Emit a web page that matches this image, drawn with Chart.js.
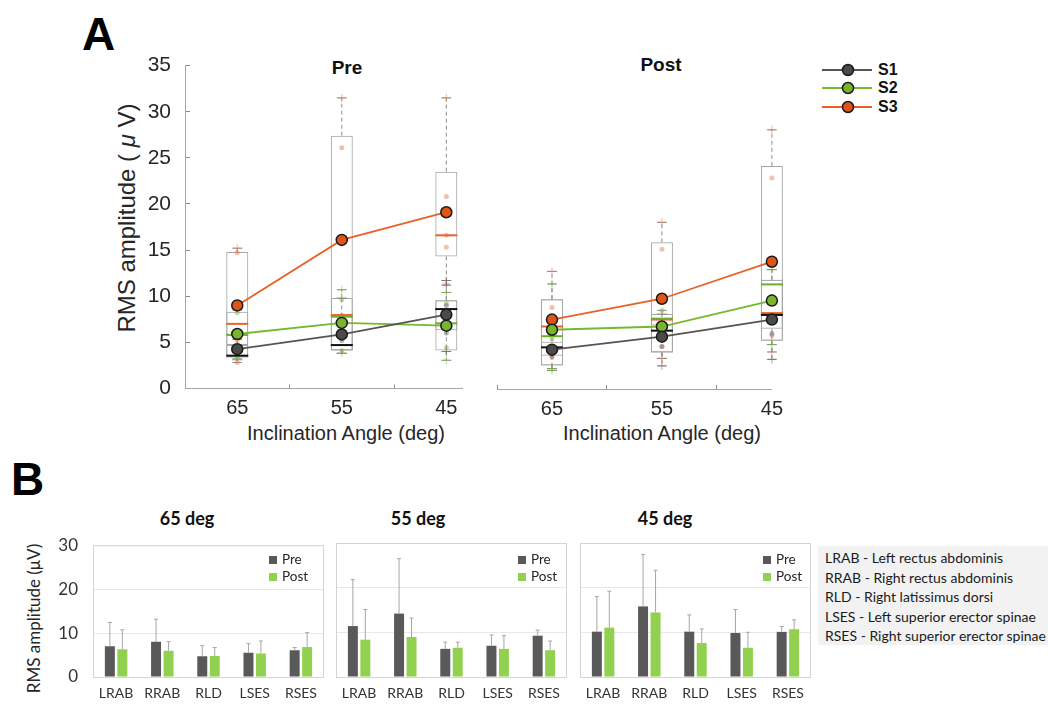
<!DOCTYPE html>
<html lang="en">
<head>
<meta charset="UTF-8">
<title>RMS amplitude by inclination angle</title>
<script src="https://cdn.jsdelivr.net/npm/chart.js"></script>
<style>
  body { margin: 0; width: 1048px; height: 708px; position: relative; overflow: hidden; background: #fff;
         font-family: "Liberation Sans", Arial, sans-serif; color: #262626; }
  .abs { position: absolute; line-height: 1; white-space: nowrap; }
  .c { text-align: center; }
  .b { font-weight: bold; }
  .cal { font-family: Lato, "Open Sans", sans-serif; }
  canvas { position: absolute; }
  .sq { display: inline-block; width: 8px; height: 8px; margin-right: 5px; vertical-align: 0px; }
  #muscleKey { position: absolute; left: 818px; top: 546px; width: 230px; height: 99px; background: #f2f2f2;
               font-family: Lato, sans-serif; font-size: 14px; line-height: 19.6px; color: #1a1a1a; padding: 2px 0 0 7px; box-sizing: border-box; }
  #subjKey .row { position: absolute; left: 0; height: 18px; }
  #subjKey span { position: absolute; left: 58px; top: 0; font-weight: bold; font-size: 16px; line-height: 18px; color: #111; }
</style>
</head>
<body>

<!-- panel A texts -->
<div class="abs b" style="left:82px; top:11px; font-size:46px; color:#000;">A</div>
<div class="abs b c" style="left:297px; top:58px; width:100px; font-size:19px; color:#111;">Pre</div>
<div class="abs b c" style="left:611px; top:55px; width:100px; font-size:19px; color:#111;">Post</div>
<div class="abs c" style="left:221px; top:423px; width:250px; font-size:20px;">Inclination Angle (deg)</div>
<div class="abs c" style="left:537px; top:423px; width:250px; font-size:20px;">Inclination Angle (deg)</div>
<div class="abs c" style="left:-3px; top:206px; width:260px; font-size:24px; transform:rotate(-90deg);">RMS amplitude ( <i>&mu;</i> V)</div>
<div id="subjKey" class="abs" style="left:820px; top:61px; width:120px; height:60px;"></div>

<canvas id="preChart" width="375" height="386" style="left:100px; top:34px;"></canvas>
<canvas id="postChart" width="311" height="370" style="left:484px; top:50px;"></canvas>

<!-- panel B texts -->
<div class="abs b" style="left:11px; top:456px; font-size:46px; color:#000;">B</div>
<div class="abs b c cal" style="left:137px; top:509px; width:100px; font-size:18px; color:#111;">65 deg</div>
<div class="abs b c cal" style="left:368px; top:509px; width:100px; font-size:18px; color:#111;">55 deg</div>
<div class="abs b c cal" style="left:615px; top:509px; width:100px; font-size:18px; color:#111;">45 deg</div>
<div class="abs c cal" style="left:-62px; top:610px; width:190px; font-size:17px; transform:rotate(-90deg);">RMS amplitude (&mu;V)</div>

<canvas id="bar65" width="290" height="187" style="left:40px; top:520px;"></canvas>
<canvas id="bar55" width="243" height="177" style="left:330px; top:530px;"></canvas>
<canvas id="bar45" width="243" height="177" style="left:574px; top:530px;"></canvas>

<div class="abs cal" style="left:269px; top:551px; font-size:13.5px; line-height:17px;">
  <div><span class="sq" style="background:#595959"></span>Pre</div><div><span class="sq" style="background:#92d050"></span>Post</div></div>
<div class="abs cal" style="left:518px; top:551px; font-size:13.5px; line-height:17px;">
  <div><span class="sq" style="background:#595959"></span>Pre</div><div><span class="sq" style="background:#92d050"></span>Post</div></div>
<div class="abs cal" style="left:763px; top:551px; font-size:13.5px; line-height:17px;">
  <div><span class="sq" style="background:#595959"></span>Pre</div><div><span class="sq" style="background:#92d050"></span>Post</div></div>

<div id="muscleKey">
  LRAB - Left rectus abdominis<br>
  RRAB - Right rectus abdominis<br>
  RLD - Right latissimus dorsi<br>
  LSES - Left superior erector spinae<br>
  RSES - Right superior erector spinae
</div>

<script>
// ---- panel A data: rows are S1, S2, S3; columns are 65, 55, 45 deg ----
const angleTicks = ['65', '55', '45'];
const subjects = ['S1', 'S2', 'S3'];
const lineColors = ['#555555', '#77b82e', '#e8602a'];
const markerFill = ['#4a4a4a', '#78b52d', '#dd5518'];
const medianColors = ['#111111', '#6fae28', '#e8642a'];
const dotColors = ['rgba(90,90,90,0.45)', 'rgba(119,184,46,0.45)', 'rgba(235,110,70,0.45)'];

const preMean = [[4.25, 5.85, 8.0], [5.9, 7.1, 6.8], [9.0, 16.1, 19.1]];
const postMean = [[4.25, 5.65, 7.5], [6.4, 6.75, 9.55], [7.5, 9.75, 13.75]];

const preQ1 = [[3.35, 4.1, 4.1], [4.7, 4.1, 6.3], [3.35, 4.1, 14.3]];
const preMed = [[3.55, 4.7, 8.6], [5.8, 7.8, 7.05], [7.0, 7.95, 16.6]];
const preQ3 = [[4.7, 7.8, 9.55], [8.3, 9.8, 9.55], [14.8, 27.4, 23.5]];
const preLo = [[3.1, 3.8, 4.0], [3.2, 3.8, 3.05], [2.8, 3.8, 11.2]];
const preHi = [[5.3, 9.8, 11.7], [8.5, 10.7, 10.4], [15.2, 31.5, 31.5]];

const postQ1 = [[2.55, 3.95, 5.2], [3.6, 3.95, 6.5], [2.55, 3.95, 5.2]];
const postMed = [[4.5, 6.3, 8.0], [5.7, 7.6, 11.3], [6.75, 7.5, 8.2]];
const postQ3 = [[5.1, 7.0, 11.8], [9.7, 8.1, 11.8], [9.7, 15.85, 24.1]];
const postLo = [[2.0, 2.5, 3.2], [2.2, 3.3, 4.8], [2.2, 3.3, 4.0]];
const postHi = [[5.7, 8.1, 12.9], [11.35, 8.5, 12.9], [12.7, 18.0, 28.0]];

// individual points [angle index, value]
const preDots = [
  [[0, 4.0], [1, 5.2], [2, 9.0], [2, 6.0]],
  [[0, 8.2], [0, 3.4], [1, 9.6], [1, 4.1], [2, 9.2], [2, 4.4]],
  [[0, 14.7], [0, 5.2], [0, 2.8], [1, 26.1], [1, 7.9], [2, 20.8], [2, 16.6], [2, 15.3]]
];
const preOut = [
  [[2, 11.7], [2, 11.2], [2, 4.0]],
  [[0, 3.2], [1, 10.7], [1, 3.8], [2, 10.4], [2, 3.05]],
  [[0, 15.2], [1, 31.5], [2, 31.5], [2, 11.4]]
];
const postDots = [
  [[0, 3.6], [1, 4.6], [2, 6.0]],
  [[0, 5.4], [1, 8.5], [2, 10.0]],
  [[0, 8.8], [0, 6.3], [0, 3.4], [1, 15.1], [1, 4.6], [2, 22.8], [2, 5.8]]
];
const postOut = [
  [[1, 2.5], [2, 3.2]],
  [[0, 11.35], [0, 2.2], [0, 2.0], [2, 12.9], [2, 4.8]],
  [[0, 12.7], [1, 18.0], [1, 3.3], [2, 28.0], [2, 4.0]]
];

// ---- panel B data ----
const muscles = ['LRAB', 'RRAB', 'RLD', 'LSES', 'RSES'];
const bar65Pre = [7.0, 8.05, 4.75, 5.5, 6.1];
const bar65PreErr = [12.4, 13.15, 7.15, 7.6, 6.7];   // top of error bar
const bar65Post = [6.3, 6.0, 4.8, 5.35, 6.85];
const bar65PostErr = [10.75, 8.05, 6.7, 8.2, 10.1];
const bar55Pre = [11.4, 14.2, 6.3, 7.0, 9.25];
const bar55PreErr = [21.8, 26.5, 7.8, 9.4, 10.5];
const bar55Post = [8.35, 8.95, 6.55, 6.3, 6.0];
const bar55PostErr = [15.1, 13.2, 7.8, 9.25, 8.05];
const bar45Pre = [10.15, 15.8, 10.15, 9.85, 10.1];
const bar45PreErr = [18.0, 27.4, 13.9, 15.1, 11.3];
const bar45Post = [11.05, 14.45, 7.6, 6.55, 10.7];
const bar45PostErr = [19.2, 23.9, 10.75, 10.0, 12.8];

// subject legend
const key = document.getElementById('subjKey');
subjects.forEach((s, k) => {
  const row = document.createElement('div');
  row.className = 'row';
  row.style.top = (k * 18.3) + 'px';
  row.innerHTML = '<svg width="56" height="18"><line x1="2" y1="9" x2="52" y2="9" stroke="' + lineColors[k] +
    '" stroke-width="2"/><circle cx="28" cy="9" r="5.5" fill="' + markerFill[k] +
    '" stroke="#1a1a1a" stroke-width="1.5"/></svg><span>' + s + '</span>';
  key.appendChild(row);
});

const pts = arr => arr.map((v, i) => ({x: i, y: v}));
const pairPts = arr => arr.map(p => ({x: p[0], y: p[1]}));

function whiskerPts(q1, q3, lo, hi) {
  const out = [];
  q1.forEach((_, i) => {
    out.push({x: i, y: q3[i]}, {x: i, y: hi[i]}, {x: i, y: null});
    out.push({x: i, y: q1[i]}, {x: i, y: lo[i]}, {x: i, y: null});
  });
  return out;
}

function boxDatasets(q1, med, q3, lo, hi, mean, dots, outs) {
  const ds = [];
  subjects.forEach((s, k) => {
    ds.push({type: 'line', label: s, data: pts(mean[k]), borderColor: lineColors[k], borderWidth: 1.8,
      pointRadius: 5.5, pointBackgroundColor: markerFill[k], pointBorderColor: '#1a1a1a', pointBorderWidth: 1.5,
      order: 0, clip: false});
    ds.push({type: 'scatter', data: pts(med[k]), pointStyle: 'line', pointRadius: 11,
      borderColor: medianColors[k], pointBorderColor: medianColors[k], pointBorderWidth: 2, borderWidth: 2, order: 1, clip: false});
    ds.push({type: 'scatter', data: pairPts(dots[k]), pointRadius: 2.5, backgroundColor: dotColors[k],
      pointBackgroundColor: dotColors[k], pointBorderWidth: 0, borderWidth: 0, order: 2, clip: false});
    ds.push({type: 'scatter', data: pairPts(outs[k]), pointStyle: 'cross', pointRadius: 4,
      borderColor: dotColors[k], pointBorderColor: dotColors[k], pointBorderWidth: 1.2, order: 2, clip: false});
    ds.push({type: 'scatter', data: pts(lo[k]).concat(pts(hi[k])), pointStyle: 'line', pointRadius: 5,
      borderColor: '#8c8c8c', pointBorderColor: '#8c8c8c', pointBorderWidth: 1, order: 3, clip: false});
    ds.push({type: 'line', data: whiskerPts(q1[k], q3[k], lo[k], hi[k]), borderColor: '#8c8c8c', borderWidth: 1,
      borderDash: [4, 3], pointRadius: 0, spanGaps: false, order: 3, clip: false});
    ds.push({type: 'bar', data: q1[k].map((v, i) => ({x: i, y: [v, q3[k][i]]})), backgroundColor: 'rgba(255,255,255,0)',
      borderColor: '#a6a6a6', borderWidth: 1, borderSkipped: false, grouped: false, maxBarThickness: 22, order: 4, clip: false});
  });
  return ds;
}

// ticks point inwards (negative tick length), padding compensates
function boxOptions(xMax, showY, padRight) {
  return {
    responsive: false, animation: false, events: [],
    layout: {padding: {top: 15, right: padRight, left: 0, bottom: 0}},
    plugins: {legend: {display: false}, tooltip: {enabled: false}},
    scales: {
      x: {
        type: 'linear', min: -0.5, max: xMax, offset: false,
        afterBuildTicks: s => { s.ticks = [0, 1, 2].map(v => ({value: v})); },
        afterFit: s => { s.height = 31; },
        ticks: {callback: v => angleTicks[v], font: {size: 20, family: 'Liberation Sans'}, color: '#262626', padding: 12, maxRotation: 0},
        grid: {drawOnChartArea: false, drawTicks: true, tickLength: -4, color: '#8c8c8c'},
        border: {color: '#a6a6a6'}
      },
      y: {
        display: showY, min: 0, max: 35,
        afterFit: s => { s.width = showY ? 85 : 0; },
        ticks: {stepSize: 5, font: {size: 21, family: 'Liberation Sans'}, color: '#262626', padding: 19},
        grid: {drawOnChartArea: false, drawTicks: true, tickLength: -5, color: '#8c8c8c'},
        border: {color: '#a6a6a6'}
      }
    }
  };
}

new Chart(document.getElementById('preChart'), {
  type: 'bar',
  data: {datasets: boxDatasets(preQ1, preMed, preQ3, preLo, preHi, preMean, preDots, preOut)},
  options: boxOptions(2.15, true, 5)
});
new Chart(document.getElementById('postChart'), {
  type: 'bar',
  data: {datasets: boxDatasets(postQ1, postMed, postQ3, postLo, postHi, postMean, postDots, postOut)},
  options: boxOptions(2.0, false, 8)
});

// error bars (upper only) and plot frame for panel B
const errorBars = {
  id: 'errorBars',
  afterDatasetsDraw(chart) {
    const ctx = chart.ctx, y = chart.scales.y;
    chart.data.datasets.forEach((ds, i) => {
      chart.getDatasetMeta(i).data.forEach((bar, j) => {
        const top = y.getPixelForValue(ds.errTop[j]);
        ctx.save();
        ctx.strokeStyle = '#a6a6a6';
        ctx.lineWidth = 1;
        ctx.beginPath();
        ctx.moveTo(bar.x, bar.y);
        ctx.lineTo(bar.x, top);
        ctx.moveTo(bar.x - 2, top);
        ctx.lineTo(bar.x + 2, top);
        ctx.stroke();
        ctx.restore();
      });
    });
  },
  afterDraw(chart) {
    const a = chart.chartArea, ctx = chart.ctx;
    ctx.save();
    ctx.strokeStyle = '#d4d4d4';
    ctx.lineWidth = 1;
    ctx.strokeRect(a.left + 0.5, a.top + 0.5, a.right - a.left - 1, a.bottom - a.top);
    ctx.restore();
  }
};

function barChart(id, pre, preErr, post, postErr, yWidth) {
  new Chart(document.getElementById(id), {
    type: 'bar',
    data: {
      labels: muscles,
      datasets: [
        {label: 'Pre', data: pre, errTop: preErr, backgroundColor: '#595959', categoryPercentage: 0.54, barPercentage: 0.8},
        {label: 'Post', data: post, errTop: postErr, backgroundColor: '#92d050', categoryPercentage: 0.54, barPercentage: 0.8}
      ]
    },
    options: {
      responsive: false, animation: false, events: [],
      layout: {padding: {top: 13, right: 6, left: 0, bottom: 0}},
      plugins: {legend: {display: false}, tooltip: {enabled: false}},
      scales: {
        x: {
          afterFit: s => { s.height = 30; },
          ticks: {font: {size: 14, family: 'Lato'}, color: '#333', padding: 8},
          grid: {display: false, drawTicks: false}, border: {display: false}
        },
        y: {
          min: 0, max: 30,
          afterFit: s => { s.width = yWidth; },
          ticks: {stepSize: 10, display: yWidth > 20, font: {size: 17, family: 'Lato'}, color: '#333', padding: 15},
          grid: {color: '#e8e8e8', drawTicks: false}, border: {display: false}
        }
      }
    },
    plugins: [errorBars]
  });
}

barChart('bar65', bar65Pre, bar65PreErr, bar65Post, bar65PostErr, 53);
barChart('bar55', bar55Pre, bar55PreErr, bar55Post, bar55PostErr, 6);
barChart('bar45', bar45Pre, bar45PreErr, bar45Post, bar45PostErr, 6);
</script>
</body>
</html>
